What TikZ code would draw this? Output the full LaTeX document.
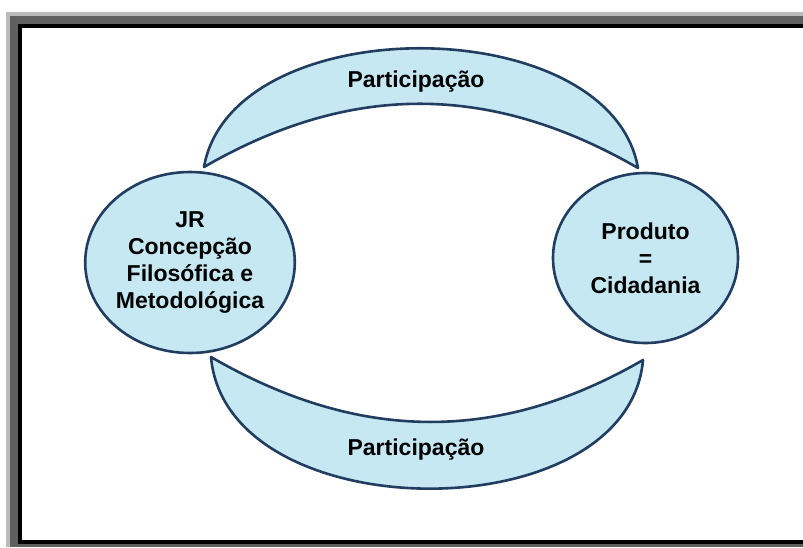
\documentclass[tikz,border=0pt]{standalone}
\usepackage{fontspec}
\setmainfont{Liberation Sans}
\usetikzlibrary{shapes.geometric,positioning}
\definecolor{fillblue}{RGB}{197,232,242}
\definecolor{lineblue}{RGB}{33,61,96}
\definecolor{frlight}{RGB}{187,187,187}
\definecolor{frdark}{RGB}{96,96,96}

\begin{document}
\begin{tikzpicture}[x=1pt,y=1pt,node distance=455.5pt,on grid,
                        circ/.style={ellipse,draw=lineblue,line width=2.6pt,fill=fillblue,
                            align=center,inner sep=0pt,font=\fontsize{23}{27}\selectfont\bfseries},
                        arco/.style={draw=lineblue,line width=2.6pt,fill=fillblue,line join=round},
                        lbl/.style={anchor=base,font=\fontsize{23}{27}\selectfont\bfseries}]
                        \useasboundingbox (0,0) rectangle (803,-547);
                        \fill[frlight] (6,-12) rectangle (803,-547);
                        \fill[frdark] (10,-16) rectangle (803,-547);
                        \fill[black] (18,-24) rectangle (803,-544);
                        \fill[white] (22,-28) rectangle (803,-540);
                        \coordinate (Ta) at (204,-167);
                        \coordinate (Tb) at (638,-168);
                        \coordinate (Ba) at (211,-357);
                        \coordinate (Bb) at (643,-360);
                        \path[arco]
                            (Ta) to [out=80,in=100,looseness=0.95] (Tb)
                            to [out=150,in=30] (Ta) -- cycle;
                        \path[arco]
                            (Ba) to [out=-30,in=-150] (Bb)
                            to [out=-95,in=-85,looseness=1.03] (Ba) -- cycle;
                        \node[circ,minimum width=202pt,minimum height=181pt] (Jr) at (190,-262.5)
                            {JR\\Concepção\\Filosófica e\\Metodológica};
                        \node[circ,minimum width=185pt,minimum height=170pt] (Prod) [right of=Jr,yshift=4.5pt]
                            {Produto\\=\\Cidadania};
                        \node[lbl] (Pt) at (416,-87) {Participação};
                        \node[lbl] (Pb) at (416,-455) {Participação};
                    \end{tikzpicture}
\end{document}
